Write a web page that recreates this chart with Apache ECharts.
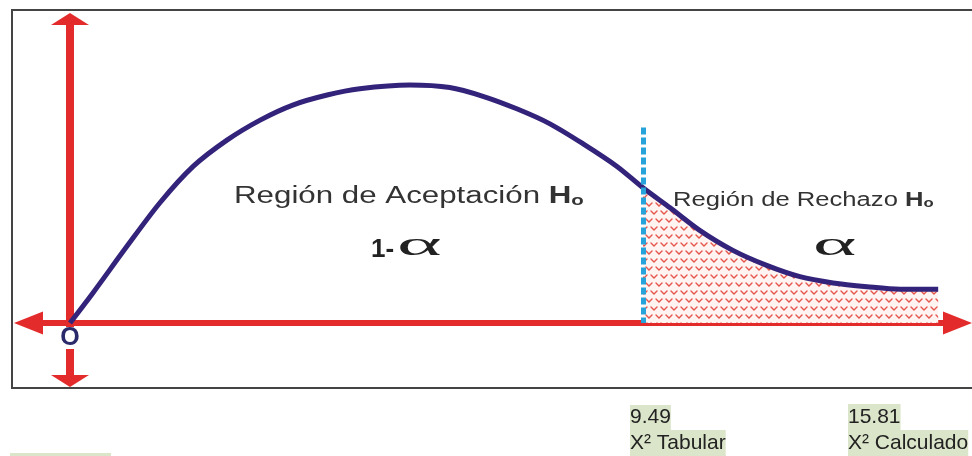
<!DOCTYPE html>
<html>
<head>
<meta charset="utf-8">
<script src="https://cdn.jsdelivr.net/npm/echarts@6/dist/echarts.min.js"></script>
<style>
  html, body { margin: 0; padding: 0; background: #fff; }
  #chart { width: 972px; height: 456px; }
</style>
</head>
<body>
<div id="chart"></div>
<script>
// curve: x in chi-square units, y as density
const curveX = [0, 0.38, 0.94, 1.49, 2.04, 2.60, 3.15, 3.69, 4.26, 4.80, 5.63, 6.29, 6.84, 7.40, 7.95, 8.50, 9.06, 9.49, 9.94, 10.43, 10.98, 11.54, 12.09, 12.64, 13.20, 13.75, 14.38]
const curveY = [0, 0.024, 0.061, 0.096, 0.125, 0.146, 0.162, 0.174, 0.182, 0.187, 0.190, 0.188, 0.181, 0.171, 0.159, 0.143, 0.125, 0.108, 0.092, 0.074, 0.058, 0.046, 0.037, 0.032, 0.029, 0.027, 0.027]
const tabular = 9.49
const calculado = 15.81
const dashTop = 0.156
const labels = {
  accept: 'Región de Aceptación ',
  reject: 'Región de Rechazo ',
  tabular: 'X² Tabular',
  calculado: 'X² Calculado'
}

const curveData = curveX.map((x, i) => [x, curveY[i]])
const hatchData = curveData.filter(d => d[0] >= tabular)

// red chevron hatch for the rejection region
const hatch = document.createElement('canvas')
hatch.width = 10
hatch.height = 16
const g = hatch.getContext('2d')
g.fillStyle = '#fff4f2'
g.fillRect(0, 0, 10, 16)
g.strokeStyle = '#e5564c'
g.lineWidth = 1.4
g.lineCap = 'round'
g.beginPath()
g.moveTo(1, 3); g.lineTo(4, 6); g.lineTo(7, 3)
g.moveTo(6, 11); g.lineTo(9, 14); g.lineTo(12, 11)
g.moveTo(-4, 11); g.lineTo(-1, 14); g.lineTo(2, 11)
g.stroke()

const red = '#e42b2b'
const navy = '#33237a'
const font = '"Liberation Sans", Arial, sans-serif'
const highlight = '#dbe5c9'

let chart = echarts.init(document.getElementById('chart'))
let options = {
  animation: false,
  grid: { left: 28.5, right: 14.5, top: 19, bottom: 75 },
  xAxis: {
    type: 'value',
    min: -0.687,
    max: 14.70,
    axisLine: {
      onZero: true,
      symbol: ['triangle', 'triangle'],
      symbolSize: [23, 29],
      lineStyle: { color: red, width: 6 }
    },
    axisTick: { show: false },
    axisLabel: { show: false },
    splitLine: { show: false }
  },
  yAxis: {
    type: 'value',
    min: -0.0463,
    max: 0.2427,
    axisLine: {
      onZero: true,
      symbol: ['triangle', 'triangle'],
      symbolSize: [38, 12],
      lineStyle: { color: red, width: 8 }
    },
    axisTick: { show: false },
    axisLabel: { show: false },
    splitLine: { show: false }
  },
  series: [
    {
      type: 'line',
      data: hatchData,
      smooth: 0.3,
      symbol: 'none',
      silent: true,
      lineStyle: { width: 0 },
      areaStyle: { color: { image: hatch, repeat: 'repeat' }, opacity: 1 },
      z: 2
    },
    {
      type: 'line',
      data: curveData,
      smooth: 0.3,
      symbol: 'none',
      silent: true,
      lineStyle: { color: navy, width: 5 },
      z: 3,
      markLine: {
        silent: true,
        symbol: 'none',
        label: { show: false },
        lineStyle: { color: '#27a3dc', width: 5, type: [7, 3] },
        data: [[{ coord: [tabular, dashTop] }, { coord: [tabular, 0] }]]
      }
    }
  ],
  graphic: [
    { type: 'rect', shape: { x: 12, y: 10, width: 990, height: 378 }, style: { fill: 'none', stroke: '#444', lineWidth: 2 }, z: 1 },
    { type: 'rect', shape: { x: 10, y: 453, width: 101, height: 3 }, style: { fill: highlight }, z: 1 },
    {
      type: 'text', x: 70, y: 338, z: 50,
      style: { text: 'O', font: 'bold 25px ' + font, fill: '#2b2a6b', align: 'center', verticalAlign: 'middle', lineHeight: 22, backgroundColor: '#fff', padding: [0, 1] }
    },
    {
      type: 'text', x: 234, y: 197, scaleX: 1.36, z: 50,
      style: {
        text: labels.accept + '{h|H}{o|o}',
        font: '23px ' + font, fill: '#333', verticalAlign: 'middle',
        rich: {
          h: { fontSize: 23, fontWeight: 'bold', fontFamily: font, fill: '#333' },
          o: { fontSize: 15, fontWeight: 'bold', fontFamily: font, fill: '#333', verticalAlign: 'bottom', padding: [6, 0, 0, 0] }
        }
      }
    },
    {
      type: 'text', x: 673, y: 200, scaleX: 1.28, z: 50,
      style: {
        text: labels.reject + '{h|H}{o|o}',
        font: '20px ' + font, fill: '#333', verticalAlign: 'middle',
        rich: {
          h: { fontSize: 20, fontWeight: 'bold', fontFamily: font, fill: '#333' },
          o: { fontSize: 13, fontWeight: 'bold', fontFamily: font, fill: '#333', verticalAlign: 'bottom', padding: [5, 0, 0, 0] }
        }
      }
    },
    {
      type: 'text', x: 371, y: 250, z: 50,
      style: { text: '1-', font: 'bold 26px ' + font, fill: '#222', verticalAlign: 'middle' }
    },
    {
      type: 'text', x: 397, y: 246, scaleX: 2.5, z: 50,
      style: { text: 'α', font: '34px "Liberation Serif", serif', fill: '#222', verticalAlign: 'middle' }
    },
    {
      type: 'text', x: 813, y: 246, scaleX: 2.5, z: 50,
      style: { text: 'α', font: '33px "Liberation Serif", serif', fill: '#222', verticalAlign: 'middle' }
    },
    {
      type: 'text', x: 630, y: 405, z: 50,
      style: { text: String(tabular), font: '21px ' + font, fill: '#222', verticalAlign: 'top', lineHeight: 25, backgroundColor: highlight }
    },
    {
      type: 'text', x: 630, y: 430, z: 50,
      style: { text: labels.tabular, font: '21px ' + font, fill: '#222', verticalAlign: 'top', lineHeight: 26, backgroundColor: highlight }
    },
    {
      type: 'text', x: 848, y: 404, z: 50,
      style: { text: String(calculado), font: '21px ' + font, fill: '#222', verticalAlign: 'top', lineHeight: 26, backgroundColor: highlight }
    },
    {
      type: 'text', x: 848, y: 430, z: 50,
      style: { text: labels.calculado, font: '21px ' + font, fill: '#222', verticalAlign: 'top', lineHeight: 26, backgroundColor: highlight }
    }
  ]
}
chart.setOption(options)
</script>
</body>
</html>
